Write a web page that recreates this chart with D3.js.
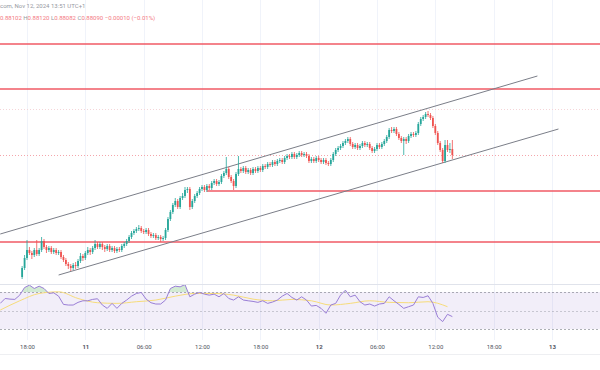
<!DOCTYPE html>
<html>
<head>
<meta charset="utf-8">
<script src="https://cdn.jsdelivr.net/npm/d3@7"></script>
<style>
    body { margin: 0; background: #ffffff; }
    svg { display: block; font-family: Roboto, "Liberation Sans", sans-serif; }
</style>
</head>
<body>
<script>
// 15 minute candles, first bar opens Nov 10 17:30 (chart clock is UTC+1, kept as plain UTC here)
let firstCandle = "2024-11-10T17:30:00Z";
let barMinutes = 15;

let opens = [
    0.87846, 0.87864, 0.87884, 0.87900, 0.87894, 0.87890, 0.87900, 0.87892, 0.87900, 0.87918,
    0.87906, 0.87900, 0.87904, 0.87896, 0.87900, 0.87894, 0.87896, 0.87886, 0.87880, 0.87872,
    0.87868, 0.87864, 0.87870, 0.87868, 0.87878, 0.87888, 0.87884, 0.87894, 0.87900, 0.87896,
    0.87904, 0.87912, 0.87906, 0.87912, 0.87906, 0.87902, 0.87908, 0.87900, 0.87904, 0.87898,
    0.87902, 0.87900, 0.87908, 0.87912, 0.87918, 0.87926, 0.87934, 0.87938, 0.87942, 0.87944,
    0.87938, 0.87936, 0.87940, 0.87932, 0.87928, 0.87930, 0.87924, 0.87926, 0.87922, 0.87924,
    0.87940, 0.87962, 0.87976, 0.87990, 0.87998, 0.87986, 0.88004, 0.88008, 0.88020, 0.88022,
    0.87986, 0.87998, 0.88008, 0.88014, 0.88022, 0.88026, 0.88020, 0.88028, 0.88024, 0.88034,
    0.88038, 0.88032, 0.88036, 0.88048, 0.88054, 0.88062, 0.88046, 0.88038, 0.88028, 0.88052,
    0.88062, 0.88058, 0.88064, 0.88056, 0.88060, 0.88054, 0.88062, 0.88058, 0.88064, 0.88060,
    0.88068, 0.88066, 0.88072, 0.88070, 0.88076, 0.88072, 0.88078, 0.88080, 0.88076, 0.88084,
    0.88088, 0.88086, 0.88092, 0.88086, 0.88090, 0.88094, 0.88090, 0.88092, 0.88088, 0.88078,
    0.88082, 0.88078, 0.88084, 0.88080, 0.88076, 0.88080, 0.88074, 0.88072, 0.88080, 0.88092,
    0.88100, 0.88104, 0.88108, 0.88114, 0.88118, 0.88122, 0.88112, 0.88106, 0.88110, 0.88104,
    0.88108, 0.88114, 0.88110, 0.88112, 0.88104, 0.88098, 0.88102, 0.88110, 0.88106, 0.88112,
    0.88118, 0.88126, 0.88140, 0.88138, 0.88142, 0.88132, 0.88124, 0.88118, 0.88122, 0.88118,
    0.88128, 0.88132, 0.88130, 0.88134, 0.88152, 0.88162, 0.88166, 0.88172, 0.88170, 0.88164,
    0.88148, 0.88134, 0.88114, 0.88100, 0.88078, 0.88110, 0.88100, 0.88102
];
let highs = [
    0.87868, 0.87890, 0.87920, 0.87906, 0.87898, 0.87904, 0.87920, 0.87904, 0.87926, 0.87922,
    0.87910, 0.87908, 0.87908, 0.87904, 0.87904, 0.87900, 0.87900, 0.87890, 0.87884, 0.87876,
    0.87872, 0.87874, 0.87876, 0.87882, 0.87894, 0.87892, 0.87898, 0.87906, 0.87904, 0.87908,
    0.87920, 0.87916, 0.87916, 0.87916, 0.87910, 0.87912, 0.87912, 0.87908, 0.87908, 0.87906,
    0.87906, 0.87912, 0.87916, 0.87922, 0.87930, 0.87938, 0.87942, 0.87946, 0.87950, 0.87948,
    0.87942, 0.87944, 0.87944, 0.87936, 0.87934, 0.87934, 0.87930, 0.87930, 0.87928, 0.87944,
    0.87966, 0.87980, 0.87994, 0.88004, 0.88002, 0.88008, 0.88014, 0.88026, 0.88026, 0.88026,
    0.88002, 0.88012, 0.88018, 0.88026, 0.88030, 0.88030, 0.88032, 0.88032, 0.88038, 0.88042,
    0.88042, 0.88040, 0.88052, 0.88058, 0.88086, 0.88066, 0.88050, 0.88042, 0.88056, 0.88088,
    0.88066, 0.88068, 0.88068, 0.88064, 0.88064, 0.88066, 0.88066, 0.88068, 0.88068, 0.88072,
    0.88072, 0.88076, 0.88076, 0.88080, 0.88080, 0.88082, 0.88084, 0.88084, 0.88088, 0.88092,
    0.88092, 0.88096, 0.88096, 0.88094, 0.88098, 0.88098, 0.88096, 0.88096, 0.88092, 0.88086,
    0.88086, 0.88088, 0.88088, 0.88084, 0.88084, 0.88084, 0.88078, 0.88084, 0.88096, 0.88104,
    0.88108, 0.88112, 0.88118, 0.88122, 0.88126, 0.88126, 0.88116, 0.88114, 0.88114, 0.88112,
    0.88118, 0.88118, 0.88116, 0.88116, 0.88108, 0.88106, 0.88114, 0.88114, 0.88116, 0.88122,
    0.88130, 0.88144, 0.88146, 0.88146, 0.88146, 0.88136, 0.88128, 0.88126, 0.88126, 0.88132,
    0.88136, 0.88136, 0.88138, 0.88156, 0.88166, 0.88170, 0.88176, 0.88178, 0.88174, 0.88168,
    0.88152, 0.88138, 0.88118, 0.88104, 0.88120, 0.88120, 0.88114, 0.88120
];
let lows = [
    0.87842, 0.87860, 0.87880, 0.87890, 0.87882, 0.87886, 0.87888, 0.87888, 0.87896, 0.87902,
    0.87894, 0.87896, 0.87892, 0.87892, 0.87890, 0.87890, 0.87882, 0.87876, 0.87868, 0.87862,
    0.87858, 0.87860, 0.87862, 0.87864, 0.87874, 0.87878, 0.87880, 0.87890, 0.87890, 0.87892,
    0.87900, 0.87902, 0.87902, 0.87900, 0.87896, 0.87898, 0.87896, 0.87896, 0.87894, 0.87894,
    0.87896, 0.87896, 0.87904, 0.87908, 0.87914, 0.87922, 0.87930, 0.87934, 0.87938, 0.87934,
    0.87932, 0.87932, 0.87928, 0.87924, 0.87924, 0.87920, 0.87920, 0.87916, 0.87918, 0.87920,
    0.87936, 0.87958, 0.87972, 0.87986, 0.87982, 0.87982, 0.88000, 0.88004, 0.88014, 0.87980,
    0.87982, 0.87994, 0.88004, 0.88010, 0.88018, 0.88016, 0.88016, 0.88020, 0.88020, 0.88030,
    0.88028, 0.88028, 0.88032, 0.88044, 0.88050, 0.88042, 0.88034, 0.88020, 0.88024, 0.88048,
    0.88054, 0.88054, 0.88052, 0.88052, 0.88050, 0.88050, 0.88054, 0.88054, 0.88056, 0.88056,
    0.88062, 0.88062, 0.88066, 0.88066, 0.88068, 0.88068, 0.88074, 0.88072, 0.88072, 0.88080,
    0.88082, 0.88082, 0.88082, 0.88082, 0.88086, 0.88086, 0.88086, 0.88084, 0.88074, 0.88074,
    0.88074, 0.88074, 0.88076, 0.88072, 0.88072, 0.88070, 0.88068, 0.88068, 0.88076, 0.88088,
    0.88096, 0.88100, 0.88104, 0.88110, 0.88114, 0.88108, 0.88102, 0.88102, 0.88100, 0.88100,
    0.88104, 0.88106, 0.88106, 0.88100, 0.88094, 0.88094, 0.88098, 0.88102, 0.88102, 0.88108,
    0.88114, 0.88122, 0.88134, 0.88134, 0.88128, 0.88120, 0.88114, 0.88090, 0.88112, 0.88114,
    0.88124, 0.88126, 0.88126, 0.88130, 0.88148, 0.88158, 0.88162, 0.88166, 0.88160, 0.88144,
    0.88130, 0.88110, 0.88096, 0.88074, 0.88074, 0.88096, 0.88094, 0.88082
];
let closes = [
    0.87864, 0.87884, 0.87900, 0.87894, 0.87890, 0.87900, 0.87892, 0.87900, 0.87918, 0.87906,
    0.87900, 0.87904, 0.87896, 0.87900, 0.87894, 0.87896, 0.87886, 0.87880, 0.87872, 0.87868,
    0.87864, 0.87870, 0.87868, 0.87878, 0.87888, 0.87884, 0.87894, 0.87900, 0.87896, 0.87904,
    0.87912, 0.87906, 0.87912, 0.87906, 0.87902, 0.87908, 0.87900, 0.87904, 0.87898, 0.87902,
    0.87900, 0.87908, 0.87912, 0.87918, 0.87926, 0.87934, 0.87938, 0.87942, 0.87944, 0.87938,
    0.87936, 0.87940, 0.87932, 0.87928, 0.87930, 0.87924, 0.87926, 0.87922, 0.87924, 0.87940,
    0.87962, 0.87976, 0.87990, 0.87998, 0.87986, 0.88004, 0.88008, 0.88020, 0.88022, 0.87986,
    0.87998, 0.88008, 0.88014, 0.88022, 0.88026, 0.88020, 0.88028, 0.88024, 0.88034, 0.88038,
    0.88032, 0.88036, 0.88048, 0.88054, 0.88062, 0.88046, 0.88038, 0.88028, 0.88052, 0.88062,
    0.88058, 0.88064, 0.88056, 0.88060, 0.88054, 0.88062, 0.88058, 0.88064, 0.88060, 0.88068,
    0.88066, 0.88072, 0.88070, 0.88076, 0.88072, 0.88078, 0.88080, 0.88076, 0.88084, 0.88088,
    0.88086, 0.88092, 0.88086, 0.88090, 0.88094, 0.88090, 0.88092, 0.88088, 0.88078, 0.88082,
    0.88078, 0.88084, 0.88080, 0.88076, 0.88080, 0.88074, 0.88072, 0.88080, 0.88092, 0.88100,
    0.88104, 0.88108, 0.88114, 0.88118, 0.88122, 0.88112, 0.88106, 0.88110, 0.88104, 0.88108,
    0.88114, 0.88110, 0.88112, 0.88104, 0.88098, 0.88102, 0.88110, 0.88106, 0.88112, 0.88118,
    0.88126, 0.88140, 0.88138, 0.88142, 0.88132, 0.88124, 0.88118, 0.88122, 0.88118, 0.88128,
    0.88132, 0.88130, 0.88134, 0.88152, 0.88162, 0.88166, 0.88172, 0.88170, 0.88164, 0.88148,
    0.88134, 0.88114, 0.88100, 0.88078, 0.88110, 0.88100, 0.88102, 0.88090
];

// RSI(14) read every 30 minutes, starting Nov 10 15:15
let rsiStart = "2024-11-10T15:15:00Z";
let rsiStepMinutes = 30;
let rsiValues = [
    57.7, 63.0, 62.3, 62.0, 66.6, 74.8, 77.4, 73.8, 76.3, 73.8,
    68.4, 69.1, 65.5, 56.6, 55.9, 55.9, 58.8, 60.5, 60.5, 62.0,
    62.7, 55.9, 52.3, 57.7, 52.3, 57.7, 61.3, 65.5, 68.4, 69.5,
    62.3, 58.4, 57.0, 57.0, 61.3, 73.8, 76.3, 75.6, 78.0, 64.8,
    67.7, 69.5, 67.7, 66.6, 67.7, 64.8, 68.4, 63.0, 61.3, 64.8,
    61.3, 60.5, 59.8, 58.8, 60.5, 57.7, 59.1, 61.3, 65.5, 68.4,
    64.1, 61.3, 64.8, 61.3, 54.8, 55.5, 52.3, 47.0, 55.9, 57.7,
    66.6, 72.0, 64.8, 66.6, 59.5, 55.9, 57.0, 54.8, 57.0, 57.7,
    64.8, 60.5, 56.6, 52.3, 54.1, 55.9, 64.8, 64.1, 65.9, 57.7,
    42.7, 38.0, 45.9, 43.4
];
// RSI moving average, read every 2 hours
let rsiMaStepMinutes = 120;
let rsiMaValues = [
    50.5, 60.5, 68.4, 70.2, 63.0, 58.4, 57.7, 59.5, 61.3, 65.5, 68.4, 68.4,
    66.6, 62.3, 60.5, 62.0, 60.5, 55.9, 57.7, 60.5, 58.8, 58.4, 59.5, 54.1
];
let rsiBands = [70, 50, 30];

// drawn levels (red) and where each one starts
let levelPrices = [0.88312, 0.88222, 0.88018, 0.87916];
let levelStarts = ["2024-11-10T12:00:00Z", "2024-11-10T12:00:00Z", "2024-11-11T12:30:00Z", "2024-11-10T12:00:00Z"];
let dottedLevel = 0.88182;

// the two channel lines: [time, price] end points
let channelUpper = [["2024-11-10T15:15:00Z", 0.87932], ["2024-11-12T22:30:00Z", 0.88248]];
let channelLower = [["2024-11-10T21:15:00Z", 0.87850], ["2024-11-13T00:40:00Z", 0.88142]];

let headerLine = "com, Nov 12, 2024 13:51 UTC+1";
let ohlcLabels = ["", "H", "L", "C"];
let ohlcValues = ["0.88102", "0.88120", "0.88082", "0.88090"];
let changeText = "\u22120.00010 (\u22120.01%)";

/////////////// Setup //////////////////
let width = 600, height = 370;
let mainBottom = 283;
let rsiTop = 285, rsiBottom = 340;
let upColor = "#26a69a", downColor = "#ef5350";

let svg = d3.select("body").append("svg")
    .attr("width", width)
    .attr("height", height);

let x = d3.scaleUtc()
    .domain([new Date("2024-11-10T18:00:00Z"), new Date("2024-11-13T00:00:00Z")])
    .range([27, 552]);
let y = d3.scaleLinear()
    .domain([0.87834, 0.88400])
    .range([mainBottom, 0]);
let yRsi = d3.scaleLinear()
    .domain([30, 70])
    .range([329, 292]);

let candles = closes.map((c, i) => ({
    time: d3.utcMinute.offset(new Date(firstCandle), barMinutes * i),
    open: opens[i], high: highs[i], low: lows[i], close: c
}));
let rsi = rsiValues.map((v, i) => ({ time: d3.utcMinute.offset(new Date(rsiStart), rsiStepMinutes * i), value: v }));
let rsiMa = rsiMaValues.map((v, i) => ({ time: d3.utcMinute.offset(new Date(rsiStart), rsiMaStepMinutes * i), value: v }));

let defs = svg.append("defs");
defs.append("clipPath").attr("id", "mainClip")
    .append("rect").attr("x", 0).attr("y", 0).attr("width", width).attr("height", mainBottom);
defs.append("clipPath").attr("id", "rsiClip")
    .append("rect").attr("x", 0).attr("y", rsiTop).attr("width", width).attr("height", rsiBottom - rsiTop);
defs.append("clipPath").attr("id", "overboughtClip")
    .append("rect").attr("x", 0).attr("y", rsiTop).attr("width", width).attr("height", yRsi(70) - rsiTop);

/////////////// Grid //////////////////
let timeTicks = x.ticks(d3.utcHour.every(6));

svg.append("g")
    .attr("class", "grid")
    .selectAll("line")
    .data(timeTicks)
    .enter().append("line")
    .attr("x1", d => Math.round(x(d)) + 0.5)
    .attr("x2", d => Math.round(x(d)) + 0.5)
    .attr("y1", 0)
    .attr("y2", rsiBottom)
    .style("stroke", "#f0f3fa");

// pane separators
svg.append("line")
    .attr("x1", 0).attr("x2", width)
    .attr("y1", mainBottom + 1.5).attr("y2", mainBottom + 1.5)
    .style("stroke", "#e0e3eb");
svg.append("line")
    .attr("x1", 0).attr("x2", width)
    .attr("y1", 354.5).attr("y2", 354.5)
    .style("stroke", "#eeeff2");

/////////////// Main pane //////////////////
let main = svg.append("g").attr("clip-path", "url(#mainClip)");

// dotted reference level
main.append("line")
    .attr("x1", 0).attr("x2", width)
    .attr("y1", Math.round(y(dottedLevel)) + 0.5).attr("y2", Math.round(y(dottedLevel)) + 0.5)
    .style("stroke", "#f5d5d8")
    .style("stroke-dasharray", "1,2");

// last price line
let lastClose = closes[closes.length - 1];
main.append("line")
    .attr("x1", 0).attr("x2", width)
    .attr("y1", Math.round(y(lastClose)) + 0.5).attr("y2", Math.round(y(lastClose)) + 0.5)
    .style("stroke", "#f4a5ab")
    .style("stroke-dasharray", "1,2");

// red horizontal levels
main.append("g")
    .selectAll("line")
    .data(levelPrices)
    .enter().append("line")
    .attr("x1", (d, i) => x(new Date(levelStarts[i])))
    .attr("x2", width)
    .attr("y1", d => y(d))
    .attr("y2", d => y(d))
    .style("stroke", "#f05a64")
    .style("stroke-width", 1.5);

// channel
main.append("g")
    .selectAll("line")
    .data([channelUpper, channelLower])
    .enter().append("line")
    .attr("x1", d => x(new Date(d[0][0])))
    .attr("y1", d => y(d[0][1]))
    .attr("x2", d => x(new Date(d[1][0])))
    .attr("y2", d => y(d[1][1]))
    .style("stroke", "#7b7e88")
    .style("stroke-width", 1);

// candles
let candle = main.append("g")
    .attr("class", "candles")
    .selectAll("g")
    .data(candles)
    .enter().append("g")
    .style("fill", d => d.close >= d.open ? upColor : downColor)
    .style("stroke", d => d.close >= d.open ? upColor : downColor);

candle.append("line")
    .attr("x1", d => x(d.time))
    .attr("x2", d => x(d.time))
    .attr("y1", d => y(d.high))
    .attr("y2", d => y(d.low))
    .style("stroke-width", 0.8);

candle.append("rect")
    .attr("x", d => x(d.time) - 0.9)
    .attr("width", 1.8)
    .attr("y", d => y(Math.max(d.open, d.close)))
    .attr("height", d => Math.max(0.8, Math.abs(y(d.open) - y(d.close))))
    .style("stroke", "none");

/////////////// RSI pane //////////////////
let rsiPane = svg.append("g").attr("clip-path", "url(#rsiClip)");

rsiPane.append("rect")
    .attr("x", 0).attr("width", width)
    .attr("y", yRsi(70)).attr("height", yRsi(30) - yRsi(70))
    .style("fill", "#7e57c2")
    .style("fill-opacity", 0.1);

rsiPane.append("g")
    .selectAll("line")
    .data(rsiBands)
    .enter().append("line")
    .attr("x1", 0).attr("x2", width)
    .attr("y1", d => Math.round(yRsi(d)) + 0.5)
    .attr("y2", d => Math.round(yRsi(d)) + 0.5)
    .style("stroke", "#787b86")
    .style("stroke-opacity", d => d === 50 ? 0.35 : 0.6)
    .style("stroke-dasharray", "2,2");

// overbought fill
rsiPane.append("path")
    .datum(rsi)
    .attr("clip-path", "url(#overboughtClip)")
    .attr("d", d3.area().x(d => x(d.time)).y0(yRsi(70)).y1(d => yRsi(d.value)))
    .style("fill", "#4caf50")
    .style("fill-opacity", 0.25);

rsiPane.append("path")
    .datum(rsiMa)
    .attr("d", d3.line().curve(d3.curveMonotoneX).x(d => x(d.time)).y(d => yRsi(d.value)))
    .style("fill", "none")
    .style("stroke", "#f7dc7a")
    .style("stroke-width", 1);

rsiPane.append("path")
    .datum(rsi)
    .attr("d", d3.line().x(d => x(d.time)).y(d => yRsi(d.value)))
    .style("fill", "none")
    .style("stroke", "#9a7ed6")
    .style("stroke-width", 1);

/////////////// Time axis //////////////////
let axis = svg.append("g")
    .attr("transform", "translate(0," + rsiBottom + ")")
    .call(d3.axisBottom(x)
        .tickValues(timeTicks)
        .tickSize(0)
        .tickPadding(5)
        .tickFormat(d => d.getUTCHours() === 0 ? d3.utcFormat("%-d")(d) : d3.utcFormat("%H:%M")(d)));
axis.select(".domain").remove();
axis.attr("font-family", null).attr("font-size", null);
axis.selectAll("text")
    .style("font-size", "6px")
    .style("fill", "#50535e")
    .style("font-weight", d => d.getUTCHours() === 0 ? "bold" : null);

/////////////// Header //////////////////
svg.append("text")
    .attr("x", 0).attr("y", 8)
    .style("font-size", "6px")
    .style("fill", "#9598a1")
    .text(headerLine);

let legend = svg.append("text")
    .attr("x", 0).attr("y", 19.5)
    .style("font-size", "6px");
ohlcValues.forEach((v, i) => {
    legend.append("tspan").style("fill", "#9598a1").text((i > 0 ? " " : "") + ohlcLabels[i]);
    legend.append("tspan").style("fill", "#f47a83").text(v);
});
legend.append("tspan").style("fill", "#f47a83").text(" " + changeText);
</script>
</body>
</html>
